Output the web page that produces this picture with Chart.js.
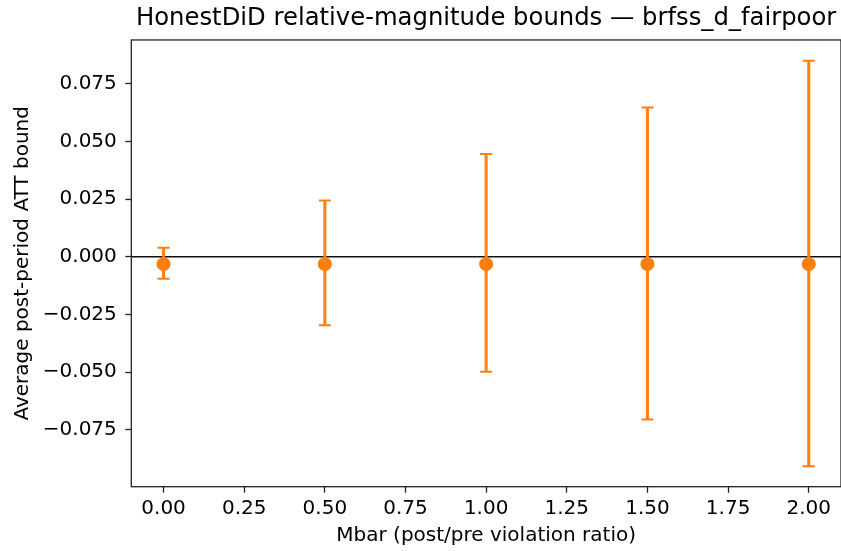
<!DOCTYPE html>
<html>
<head>
<meta charset="utf-8">
<script src="https://cdn.jsdelivr.net/npm/chart.js@4"></script>
<style>
  html, body { margin:0; padding:0; background:#fff; overflow:hidden; }
  #wrap { width:841px; height:551px; }
</style>
</head>
<body>
<div id="wrap"><canvas id="chart" width="841" height="551"></canvas></div>
<script>
// HonestDiD relative-magnitude bounds, brfss_d_fairpoor
const mbar = [0.0, 0.5, 1.0, 1.5, 2.0];
const estimate = [-0.0032, -0.0032, -0.0032, -0.0032, -0.0032];
const lower = [-0.0095, -0.0297, -0.0498, -0.0705, -0.0907];
const upper = [0.0039, 0.0244, 0.0445, 0.0647, 0.0849];
const xTicks = [0.0, 0.25, 0.5, 0.75, 1.0, 1.25, 1.5, 1.75, 2.0];
const yTicks = [-0.075, -0.05, -0.025, 0.0, 0.025, 0.05, 0.075];

const ORANGE = '#ff7f0e';
const FONT = 'DejaVu Sans';
const minus = s => s.replace('-', '\u2212');

// error bars + zero line + axes box, all placed through the chart's scales
const errBars = {
  id: 'errBars',
  beforeDatasetsDraw(chart){
    const {ctx, chartArea:a, scales:{x, y}} = chart;
    ctx.save();
    // zero line
    const y0 = y.getPixelForValue(0);
    ctx.strokeStyle = '#111'; ctx.lineWidth = 1.5;
    ctx.beginPath(); ctx.moveTo(a.left, y0); ctx.lineTo(a.right, y0); ctx.stroke();
    // bars
    ctx.strokeStyle = ORANGE;
    mbar.forEach((m, i)=>{
      const px = x.getPixelForValue(m);
      const pl = y.getPixelForValue(lower[i]), pu = y.getPixelForValue(upper[i]);
      ctx.lineWidth = 3;
      ctx.beginPath(); ctx.moveTo(px, pl); ctx.lineTo(px, pu); ctx.stroke();
      ctx.lineWidth = 2;
      ctx.beginPath();
      ctx.moveTo(px-6, pl); ctx.lineTo(px+6, pl);
      ctx.moveTo(px-6, pu); ctx.lineTo(px+6, pu);
      ctx.stroke();
    });
    ctx.restore();
  },
  afterDraw(chart){
    const {ctx, chartArea:a} = chart;
    ctx.save();
    ctx.strokeStyle = '#222'; ctx.lineWidth = 1.3;
    ctx.strokeRect(a.left, a.top, a.right-a.left, a.bottom-a.top);
    ctx.restore();
  }
};

const ctx = document.getElementById('chart').getContext('2d');
new Chart(ctx, {
  type: 'scatter',
  data: {
    datasets: [{
      label: 'Average post-period ATT bound',
      data: mbar.map((m, i)=>({x:m, y:estimate[i]})),
      backgroundColor: ORANGE, borderColor: ORANGE,
      pointRadius: 7, pointHoverRadius: 7, borderWidth: 0
    }]
  },
  options: {
    responsive: false, animation: false,
    layout: { autoPadding: false, padding: { left: 0, right: -1, top: 0, bottom: 0 } },
    plugins: {
      legend: { display: false },
      tooltip: { enabled: false },
      title: {
        display: true, fullSize: false,
        text: 'HonestDiD relative-magnitude bounds \u2014 brfss_d_fairpoor',
        color: '#000', font: { family: FONT, size: 24.3, weight: 'normal' },
        padding: { top: 4, bottom: 6.8 }
      }
    },
    scales: {
      x: {
        type: 'linear', min: -0.1, max: 2.1,
        afterBuildTicks: s => { s.ticks = xTicks.map(v=>({value:v})); },
        afterFit: s => { s.height = 64.3; s.paddingLeft = 0; s.paddingRight = 0; },
        grid: { drawOnChartArea: false, drawTicks: true, tickLength: 6, tickColor: '#222', tickWidth: 1.3 },
        border: { display: false },
        ticks: { color: '#000', padding: 4.5, maxRotation: 0, font: { family: FONT, size: 20 },
                 callback: v => v.toFixed(2) },
        title: { display: true, text: 'Mbar (post/pre violation ratio)', color: '#000',
                 font: { family: FONT, size: 20 }, padding: { top: 2, bottom: 2.9 } }
      },
      y: {
        type: 'linear', min: -0.0996, max: 0.0939,
        afterBuildTicks: s => { s.ticks = yTicks.map(v=>({value:v})); },
        afterFit: s => { s.width = 131.3; s.paddingTop = 0; s.paddingBottom = 0; },
        grid: { drawOnChartArea: false, drawTicks: true, tickLength: 6, tickColor: '#222', tickWidth: 1.3 },
        border: { display: false },
        ticks: { color: '#000', padding: 8.5, font: { family: FONT, size: 20 },
                 callback: v => minus(v.toFixed(3)) },
        title: { display: true, text: 'Average post-period ATT bound', color: '#000',
                 font: { family: FONT, size: 20 }, padding: { top: 10.6, bottom: 2 } }
      }
    }
  },
  plugins: [errBars]
});
</script>
</body>
</html>
